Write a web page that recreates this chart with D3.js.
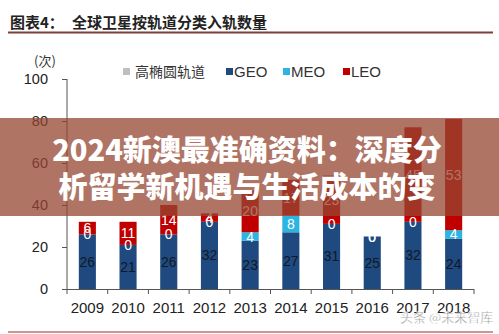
<!DOCTYPE html>
<html><head><meta charset="utf-8">
<script src="https://cdn.jsdelivr.net/npm/d3@7/dist/d3.min.js"></script>
<style>
html,body{margin:0;padding:0;background:#fff;}
svg{display:block;}
</style></head>
<body>
<script>
const years = ["2009","2010","2011","2012","2013","2014","2015","2016","2017","2018"];
const heo = [0,0,0,0,0,0,0,0,0,0];
const geo = [26,21,26,32,23,27,31,25,32,24];
const meo = [0,0,0,0,4,8,0,0,0,4];
const leo = [6,11,14,4,20,17,23,0,45,53];
const yTicks = [0,20,40,60,80,100];
const seriesNames = ["高椭圆轨道","GEO","MEO","LEO"];
const seriesColors = ["#bfbfbf","#1f4a7f","#2cb4e2","#c00000"];

const W = 499, H = 334;
const svg = d3.select("body").append("svg").attr("width", W).attr("height", H);
const font = "Arial, 'Liberation Sans', sans-serif";

// title
svg.append("text").attr("x", 10).attr("y", 28)
  .attr("font-family", "'Noto Sans CJK SC'").attr("font-weight", 700)
  .attr("font-size", 15).attr("fill", "#222").text("图表4：");
svg.append("text").attr("x", 72).attr("y", 28)
  .attr("font-family", "'Noto Sans CJK SC'").attr("font-weight", 700)
  .attr("font-size", 15).attr("fill", "#222").text("全球卫星按轨道分类入轨数量");
svg.append("line").attr("x1", 8).attr("x2", 493).attr("y1", 32.5).attr("y2", 32.5)
  .attr("stroke", "#7d3f3a").attr("stroke-width", 2);
svg.append("line").attr("x1", 8).attr("x2", 493).attr("y1", 332).attr("y2", 332)
  .attr("stroke", "#b8746e").attr("stroke-width", 1.5);

// unit
svg.append("text").attr("x", 45).attr("y", 66).attr("text-anchor", "middle")
  .attr("font-family", "'Noto Sans CJK SC'").attr("font-size", 13).attr("fill", "#333").text("(次)");

const x = d3.scaleBand().domain(years).range([67, 474]).paddingInner(0.58).paddingOuter(0.29);
const y = d3.scaleLinear().domain([0, 100]).range([289, 79]);

// stacks
const rows = years.map((yr, i) => ({year: yr, heo: heo[i], geo: geo[i], meo: meo[i], leo: leo[i]}));
const keys = ["heo","geo","meo","leo"];
const stack = d3.stack().keys(["geo","meo","leo","heo"])(rows);
const colorOf = {heo: seriesColors[0], geo: seriesColors[1], meo: seriesColors[2], leo: seriesColors[3]};

stack.forEach(s => {
  svg.append("g").selectAll("rect").data(s).join("rect")
    .attr("x", d => x(d.data.year))
    .attr("width", x.bandwidth())
    .attr("y", d => y(d[1]))
    .attr("height", d => y(d[0]) - y(d[1]))
    .attr("fill", colorOf[s.key]);
});

// labels
stack.forEach(s => {
  if (s.key === "heo") return;
  svg.append("g").selectAll("text").data(s).join("text")
    .attr("x", d => x(d.data.year) + x.bandwidth() / 2)
    .attr("y", d => y((d[0] + d[1]) / 2) + 5)
    .attr("text-anchor", "middle")
    .attr("font-family", font).attr("font-size", 14)
    .attr("fill", s.key === "geo" ? "#111827" : "#ffffff")
    .text(d => d.data[s.key]);
});

// y axis
const yAxis = svg.append("g").attr("transform", "translate(67,0)")
  .call(d3.axisLeft(y).tickValues(yTicks).tickSize(5).tickPadding(14));
yAxis.select(".domain").attr("stroke", "#555").attr("d", "M0,79V289");
yAxis.selectAll(".tick line").attr("stroke", "#555");
yAxis.selectAll(".tick text").attr("font-family", font).attr("font-size", 14.5).attr("fill", "#222");

// x axis
const xg = svg.append("g");
xg.append("line").attr("x1", 67).attr("x2", 474).attr("y1", 289.5).attr("y2", 289.5).attr("stroke", "#555");
const step = x.step();
xg.selectAll("line.t").data(d3.range(years.length + 1)).join("line").attr("class", "t")
  .attr("x1", i => 67 + i * step).attr("x2", i => 67 + i * step)
  .attr("y1", 289).attr("y2", 294).attr("stroke", "#555");
xg.selectAll("text").data(years).join("text")
  .attr("x", d => x(d) + x.bandwidth() / 2).attr("y", 313)
  .attr("text-anchor", "middle").attr("font-family", font).attr("font-size", 15).attr("fill", "#222")
  .text(d => d);

// legend
const legX = [123, 226, 283, 343];
const lg = svg.append("g");
seriesNames.forEach((n, i) => {
  lg.append("rect").attr("x", legX[i]).attr("y", 68).attr("width", 7).attr("height", 7).attr("fill", seriesColors[i]);
  lg.append("text").attr("x", legX[i] + (i === 0 ? 12 : 8)).attr("y", 77)
    .attr("font-family", i === 0 ? "'Noto Sans CJK SC'" : font).attr("font-size", i === 0 ? 14 : 15)
    .attr("fill", "#333").text(n);
});

// overlay banner
svg.append("rect").attr("x", 0).attr("y", 118).attr("width", W).attr("height", 98)
  .attr("fill", "rgb(150,70,50)").attr("opacity", 0.75);
const bannerLines = ["2024新澳最准确资料：深度分", "析留学新机遇与生活成本的变"];
bannerLines.forEach((t, i) => {
  svg.append("text").attr("x", 247).attr("y", 161 + i * 37).attr("text-anchor", "middle")
    .attr("font-family", "'Noto Sans CJK SC'").attr("font-weight", 900).attr("font-size", 29)
    .attr("fill", "#fff").text(t);
});

// watermark
svg.append("text").attr("x", 400).attr("y", 322)
  .attr("font-family", "'Noto Sans CJK SC'").attr("font-size", 13)
  .attr("fill", "#8a8a8a").attr("stroke", "#fff").attr("stroke-width", 0.4)
  .text("头条 @未来智库");
</script>
</body></html>
